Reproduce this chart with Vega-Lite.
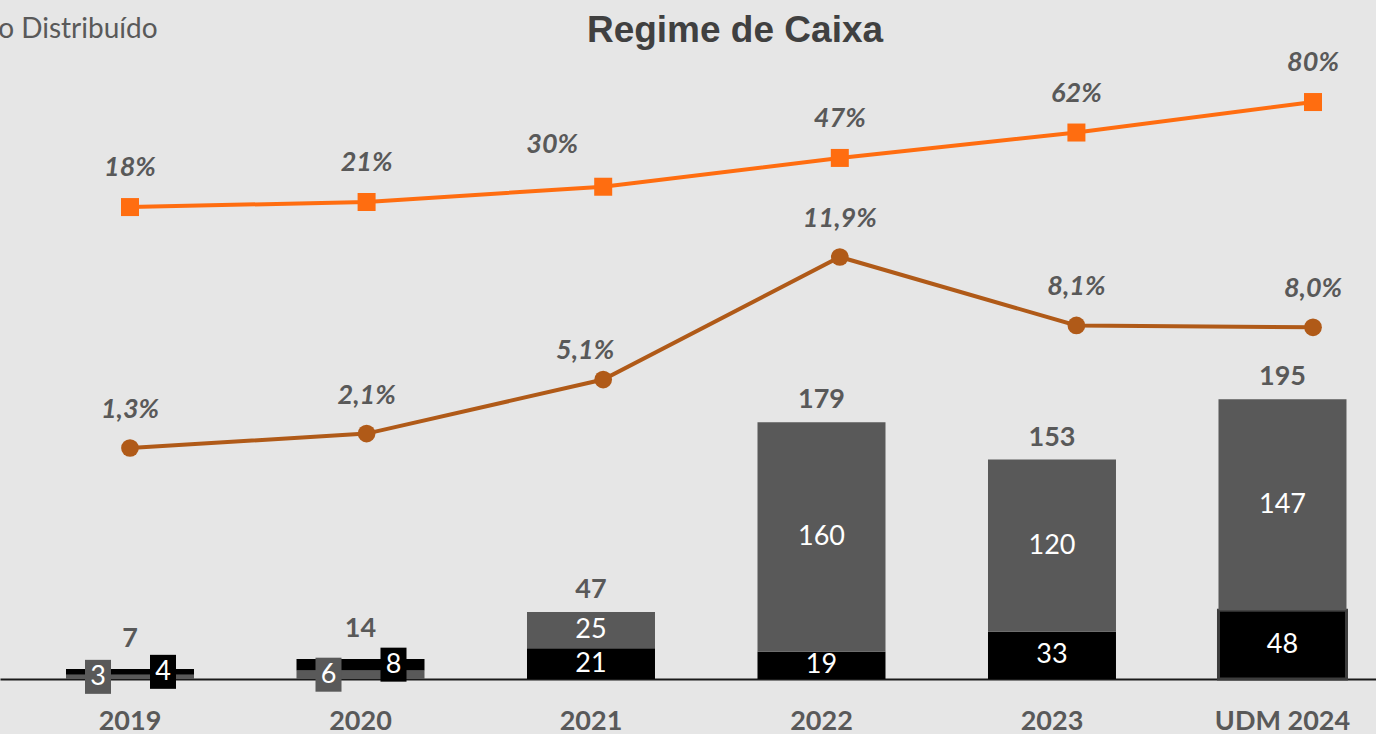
{
  "$schema": "https://vega.github.io/schema/vega-lite/v6.json",
  "width": 1376,
  "height": 631,
  "autosize": {"type": "none"},
  "padding": {"left": 0, "right": 0, "top": 48, "bottom": 55},
  "background": "#e6e6e6",
  "config": {
    "view": {"stroke": null},
    "font": "Lato",
    "locale": {"number": {"decimal": ",", "thousands": ".", "grouping": [3], "currency": ["R$", ""]}}
  },
  "title": {
    "text": "Regime de Caixa",
    "font": "Liberation Sans",
    "fontSize": 37,
    "fontWeight": "bold",
    "color": "#404040",
    "anchor": "middle",
    "frame": "group",
    "dx": 47,
    "offset": -63,
    "baseline": "alphabetic"
  },
  "datasets": {
    "barras": [
      {"ano": "2019", "serie": "Parcela 2", "valor": 3, "ordem": 1},
      {"ano": "2019", "serie": "Parcela 1", "valor": 4, "ordem": 2},
      {"ano": "2020", "serie": "Parcela 2", "valor": 6, "ordem": 1},
      {"ano": "2020", "serie": "Parcela 1", "valor": 8, "ordem": 2},
      {"ano": "2021", "serie": "Parcela 1", "valor": 21.4, "ordem": 1},
      {"ano": "2021", "serie": "Parcela 2", "valor": 25.4, "ordem": 2},
      {"ano": "2022", "serie": "Parcela 1", "valor": 19, "ordem": 1},
      {"ano": "2022", "serie": "Parcela 2", "valor": 160, "ordem": 2},
      {"ano": "2023", "serie": "Parcela 1", "valor": 33, "ordem": 1},
      {"ano": "2023", "serie": "Parcela 2", "valor": 120, "ordem": 2},
      {"ano": "UDM 2024", "serie": "Parcela 1", "valor": 48, "ordem": 1},
      {"ano": "UDM 2024", "serie": "Parcela 2", "valor": 147, "ordem": 2}
    ],
    "linhas": [
      {"ano": "2019", "taxa_a": 0.18, "taxa_b": 0.013},
      {"ano": "2020", "taxa_a": 0.21, "taxa_b": 0.021},
      {"ano": "2021", "taxa_a": 0.30, "taxa_b": 0.051},
      {"ano": "2022", "taxa_a": 0.47, "taxa_b": 0.119},
      {"ano": "2023", "taxa_a": 0.62, "taxa_b": 0.081},
      {"ano": "UDM 2024", "taxa_a": 0.80, "taxa_b": 0.080}
    ]
  },
  "layer": [
    {
      "data": {"name": "barras"},
      "encoding": {
        "x": {
          "field": "ano",
          "type": "nominal",
          "scale": {"domain": ["2019", "2020", "2021", "2022", "2023", "UDM 2024"], "paddingInner": 0.4447, "paddingOuter": 0.2072, "align": 0.691},
          "axis": {
            "title": null,
            "ticks": false,
            "grid": false,
            "labelAngle": 0,
            "labelFont": "Lato",
            "labelFontWeight": "bold",
            "labelFontSize": 27,
            "labelColor": "#595959",
            "labelPadding": 29,
            "domainColor": "#1a1a1a",
            "domainWidth": 2
          }
        }
      },
      "layer": [
        {
          "mark": {"type": "bar"},
          "encoding": {
            "y": {"field": "valor", "type": "quantitative", "stack": "zero", "scale": {"domain": [0, 440]}, "axis": null},
            "color": {"field": "serie", "type": "nominal", "scale": {"domain": ["Parcela 1", "Parcela 2"], "range": ["#000000", "#595959"]}, "legend": null},
            "order": {"field": "ordem", "type": "quantitative"},
            "stroke": {"condition": {"test": "datum.ano === 'UDM 2024' && datum.serie === 'Parcela 1'", "value": "#3d3d3d"}, "value": "transparent"},
            "strokeWidth": {"value": 3}
          }
        },
        {
          "transform": [
            {"filter": "datum.ano !== '2019' && datum.ano !== '2020'"},
            {"stack": "valor", "groupby": ["ano"], "sort": [{"field": "ordem", "order": "ascending"}], "as": ["v0", "v1"]},
            {"fold": ["v0", "v1"], "as": ["ponta", "pos"]},
            {"aggregate": [{"op": "mean", "field": "pos", "as": "meio"}], "groupby": ["ano", "serie", "valor"]}
          ],
          "mark": {"type": "text", "color": "#ffffff", "fontSize": 27, "font": "Lato", "baseline": "middle"},
          "encoding": {
            "y": {"field": "meio", "type": "quantitative", "scale": {"domain": [0, 440]}, "axis": null},
            "text": {"field": "valor", "type": "quantitative", "format": ".0f"}
          }
        },
        {
          "transform": [
            {"filter": "datum.ano === '2019' || datum.ano === '2020'"},
            {"stack": "valor", "groupby": ["ano"], "sort": [{"field": "ordem", "order": "ascending"}], "as": ["v0", "v1"]},
            {"fold": ["v0", "v1"], "as": ["ponta", "pos"]},
            {"aggregate": [{"op": "mean", "field": "pos", "as": "meio"}], "groupby": ["ano", "serie", "valor"]},
            {"filter": "datum.serie === 'Parcela 2'"}
          ],
          "encoding": {
            "y": {"field": "meio", "type": "quantitative", "scale": {"domain": [0, 440]}, "axis": null}
          },
          "layer": [
            {"mark": {"type": "point", "shape": "M-0.765,-1H0.765V1H-0.765Z", "size": 1156, "filled": true, "opacity": 1, "color": "#595959", "xOffset": -32}},
            {"mark": {"type": "text", "color": "#ffffff", "fontSize": 27, "font": "Lato", "baseline": "middle", "xOffset": -32}, "encoding": {"text": {"field": "valor", "type": "quantitative", "format": ".0f"}}}
          ]
        },
        {
          "transform": [
            {"filter": "datum.ano === '2019' || datum.ano === '2020'"},
            {"stack": "valor", "groupby": ["ano"], "sort": [{"field": "ordem", "order": "ascending"}], "as": ["v0", "v1"]},
            {"fold": ["v0", "v1"], "as": ["ponta", "pos"]},
            {"aggregate": [{"op": "mean", "field": "pos", "as": "meio"}], "groupby": ["ano", "serie", "valor"]},
            {"filter": "datum.serie === 'Parcela 1'"}
          ],
          "encoding": {
            "y": {"field": "meio", "type": "quantitative", "scale": {"domain": [0, 440]}, "axis": null}
          },
          "layer": [
            {"mark": {"type": "point", "shape": "M-0.765,-1H0.765V1H-0.765Z", "size": 1156, "filled": true, "opacity": 1, "color": "#000000", "xOffset": 33}},
            {"mark": {"type": "text", "color": "#ffffff", "fontSize": 27, "font": "Lato", "baseline": "middle", "xOffset": 33}, "encoding": {"text": {"field": "valor", "type": "quantitative", "format": ".0f"}}}
          ]
        },
        {
          "transform": [{"filter": "datum.ano !== '2019' && datum.ano !== '2020'"}],
          "mark": {"type": "text", "color": "#595959", "fontSize": 27, "font": "Lato", "fontWeight": "bold", "baseline": "alphabetic", "dy": -14},
          "encoding": {
            "y": {"aggregate": "sum", "field": "valor", "type": "quantitative", "scale": {"domain": [0, 440]}, "axis": null},
            "text": {"aggregate": "sum", "field": "valor", "type": "quantitative", "format": ".0f"}
          }
        },
        {
          "transform": [{"filter": "datum.ano === '2019' || datum.ano === '2020'"}],
          "mark": {"type": "text", "color": "#595959", "fontSize": 27, "font": "Lato", "fontWeight": "bold", "baseline": "alphabetic", "dy": -22},
          "encoding": {
            "y": {"aggregate": "sum", "field": "valor", "type": "quantitative", "scale": {"domain": [0, 440]}, "axis": null},
            "text": {"aggregate": "sum", "field": "valor", "type": "quantitative", "format": ".0f"}
          }
        }
      ]
    },
    {
      "data": {"name": "linhas"},
      "encoding": {
        "x": {"field": "ano", "type": "nominal", "scale": {"type": "point", "domain": ["2019", "2020", "2021", "2022", "2023", "UDM 2024"], "padding": 0.4078, "align": 0.6736}, "axis": null},
        "y": {"field": "taxa_a", "type": "quantitative", "scale": {"domain": [-2.606, 1.119]}, "axis": null}
      },
      "layer": [
        {
          "mark": {"type": "line", "strokeWidth": 4},
          "encoding": {
            "color": {
              "datum": "Lucro Distribuído",
              "type": "nominal",
              "scale": {"range": ["#ff6d10"]},
              "legend": {
                "orient": "none",
                "legendX": -86,
                "legendY": -32,
                "title": null,
                "padding": 0,
                "symbolOpacity": 0,
                "symbolSize": 100,
                "labelFont": "Lato",
                "labelFontSize": 28,
                "labelColor": "#595959",
                "labelLimit": 500
              }
            }
          }
        },
        {"mark": {"type": "square", "size": 324, "filled": true, "opacity": 1, "color": "#ff6d10"}},
        {
          "transform": [{"filter": "datum.ano !== '2021'"}],
          "mark": {"type": "text", "color": "#595959", "fontSize": 27, "font": "Lato", "fontWeight": "bold", "fontStyle": "italic", "baseline": "middle", "dy": -39},
          "encoding": {"text": {"field": "taxa_a", "type": "quantitative", "format": ".0%"}}
        },
        {
          "transform": [{"filter": "datum.ano === '2021'"}],
          "mark": {"type": "text", "color": "#595959", "fontSize": 27, "font": "Lato", "fontWeight": "bold", "fontStyle": "italic", "baseline": "middle", "dy": -42, "dx": -51},
          "encoding": {"text": {"field": "taxa_a", "type": "quantitative", "format": ".0%"}}
        }
      ]
    },
    {
      "data": {"name": "linhas"},
      "encoding": {
        "x": {"field": "ano", "type": "nominal", "scale": {"type": "point", "domain": ["2019", "2020", "2021", "2022", "2023", "UDM 2024"], "padding": 0.4078, "align": 0.6736}, "axis": null},
        "y": {"field": "taxa_b", "type": "quantitative", "scale": {"domain": [-0.1152, 0.235]}, "axis": null}
      },
      "layer": [
        {"mark": {"type": "line", "strokeWidth": 4, "color": "#b05a18"}},
        {"mark": {"type": "circle", "size": 314, "opacity": 1, "color": "#b05a18"}},
        {
          "transform": [{"filter": "datum.ano !== '2021'"}],
          "mark": {"type": "text", "color": "#595959", "fontSize": 27, "font": "Lato", "fontWeight": "bold", "fontStyle": "italic", "baseline": "middle", "dy": -38},
          "encoding": {"text": {"field": "taxa_b", "type": "quantitative", "format": ".1%"}}
        },
        {
          "transform": [{"filter": "datum.ano === '2021'"}],
          "mark": {"type": "text", "color": "#595959", "fontSize": 27, "font": "Lato", "fontWeight": "bold", "fontStyle": "italic", "baseline": "middle", "dy": -29, "dx": -18},
          "encoding": {"text": {"field": "taxa_b", "type": "quantitative", "format": ".1%"}}
        }
      ]
    }
  ],
  "resolve": {
    "scale": {"x": "independent", "y": "independent", "color": "independent"},
    "axis": {"x": "independent", "y": "independent"},
    "legend": {"color": "independent"}
  }
}
